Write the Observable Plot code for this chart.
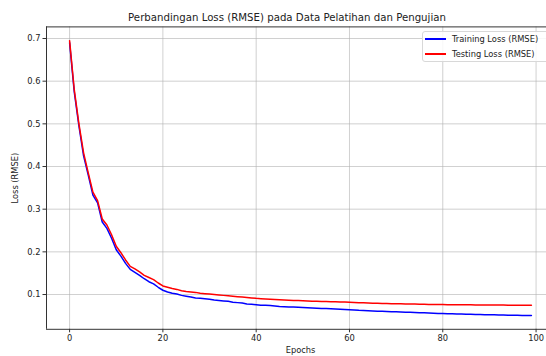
<!DOCTYPE html>
<html>
<head>
<meta charset="utf-8">
<script src="https://cdn.jsdelivr.net/npm/d3@7"></script>
<script src="https://cdn.jsdelivr.net/npm/@observablehq/plot@0.6"></script>
<style>
  html, body { margin: 0; padding: 0; background: #fff; }
  #wrap { position: relative; width: 546px; height: 356px; font-family: "DejaVu Sans", sans-serif; }
  #legend { position: absolute; left: 422px; top: 31px; width: 140px; height: 29px; border: 1px solid #d8d8d8; border-radius: 3px; background: rgba(255,255,255,0.85); font-size: 8.3px; color: #222; }
  .row { position: absolute; left: 0; height: 12px; line-height: 12px; white-space: nowrap; }
  .sw { position: absolute; left: 2px; top: 5px; width: 21px; height: 2px; display: block; }
  .lb { position: absolute; left: 29px; top: 0; }
</style>
</head>
<body>
<div id="wrap"></div>
<script>
const title = "Perbandingan Loss (RMSE) pada Data Pelatihan dan Pengujian";
const xLabel = "Epochs";
const yLabel = "Loss (RMSE)";
const seriesNames = ["Training Loss (RMSE)", "Testing Loss (RMSE)"];
const xTicks = [0, 20, 40, 60, 80, 100];
const yTicks = [0.1, 0.2, 0.3, 0.4, 0.5, 0.6, 0.7];

const trainingLoss = [
  0.690, 0.575, 0.495, 0.425, 0.380, 0.333, 0.315, 0.270, 0.255, 0.232,
  0.205, 0.190, 0.173, 0.159, 0.152, 0.145, 0.137, 0.130, 0.125, 0.117,
  0.110, 0.106, 0.103, 0.101, 0.098, 0.096, 0.094, 0.092, 0.091, 0.090,
  0.089, 0.087, 0.086, 0.085, 0.084, 0.082, 0.081, 0.080, 0.078, 0.077,
  0.076, 0.075, 0.075, 0.074, 0.073, 0.072, 0.0715, 0.071, 0.0705, 0.070,
  0.0695, 0.069, 0.0685, 0.068, 0.0675, 0.067, 0.0665, 0.066, 0.0655, 0.065,
  0.0645, 0.064, 0.063, 0.0625, 0.062, 0.0615, 0.061, 0.0605, 0.060, 0.0597,
  0.0594, 0.059, 0.0586, 0.0582, 0.0578, 0.0574, 0.057, 0.0566, 0.0562, 0.0558,
  0.0555, 0.0552, 0.0549, 0.0546, 0.0543, 0.054, 0.0537, 0.0534, 0.0531, 0.0528,
  0.0525, 0.0523, 0.0521, 0.0519, 0.0517, 0.0515, 0.0513, 0.0511, 0.0509, 0.0507
];
const testingLoss = [
  0.695, 0.580, 0.500, 0.432, 0.385, 0.340, 0.320, 0.277, 0.263, 0.240,
  0.213, 0.198, 0.181, 0.166, 0.160, 0.153, 0.145, 0.140, 0.135, 0.127,
  0.120, 0.117, 0.114, 0.112, 0.109, 0.107, 0.106, 0.105, 0.103, 0.102,
  0.101, 0.100, 0.099, 0.098, 0.097, 0.096, 0.095, 0.094, 0.093, 0.092,
  0.091, 0.0903, 0.0896, 0.089, 0.0884, 0.0878, 0.0872, 0.0867, 0.0862, 0.0857,
  0.0853, 0.0849, 0.0845, 0.0841, 0.0838, 0.0835, 0.0832, 0.0829, 0.0826, 0.0823,
  0.082, 0.0815, 0.081, 0.0806, 0.0802, 0.0798, 0.0795, 0.0792, 0.0789, 0.0786,
  0.0783, 0.0781, 0.0779, 0.0777, 0.0775, 0.0773, 0.0771, 0.0769, 0.0767, 0.0765,
  0.0764, 0.0763, 0.0762, 0.0761, 0.076, 0.0759, 0.0758, 0.0757, 0.0756, 0.0755,
  0.0754, 0.0753, 0.0752, 0.0752, 0.0751, 0.0751, 0.075, 0.075, 0.0749, 0.0749
];
const epochs = trainingLoss.map((_, i) => i);
const colors = ["#0000ff", "#ff0000"];

const rows = [];
epochs.forEach(e => rows.push({epoch: e, loss: trainingLoss[e], series: seriesNames[0]}));
epochs.forEach(e => rows.push({epoch: e, loss: testingLoss[e], series: seriesNames[1]}));

const all = trainingLoss.concat(testingLoss);
const xMin = d3.min(epochs), xMax = d3.max(epochs);
const yMin = d3.min(all), yMax = d3.max(all);
const xPad = (xMax - xMin) * 0.05, yPad = (yMax - yMin) * 0.05;
const xDomain = [xMin - xPad, xMax + xPad];
const yDomain = [yMin - yPad, yMax + yPad];

const W = 546, H = 356;
const mL = 46, mT = 26.4, mB = 27.2;

const chart = Plot.plot({
  width: W,
  height: H,
  marginLeft: mL,
  marginRight: 0,
  marginTop: mT,
  marginBottom: mB,
  style: {fontFamily: "DejaVu Sans, sans-serif", fontSize: "8.3px", color: "#222", background: "#fff"},
  x: {domain: xDomain, range: [mL, 554]},
  y: {domain: yDomain, range: [H - mB, mT]},
  color: {domain: seriesNames, range: colors},
  marks: [
    Plot.gridX(xTicks, {stroke: "#b0b0b0", strokeOpacity: 0.6, strokeWidth: 1}),
    Plot.gridY(yTicks, {stroke: "#b0b0b0", strokeOpacity: 0.6, strokeWidth: 1}),
    Plot.line(rows, {x: "epoch", y: "loss", z: "series", stroke: "series", strokeWidth: 1.5}),
    Plot.axisX(xTicks, {tickSize: 3.5, tickPadding: 2.5, tickFormat: d => d, label: null, stroke: "#333"}),
    Plot.axisY(yTicks, {tickSize: 3.5, tickPadding: 2.5, tickFormat: d => d.toFixed(1), label: null, stroke: "#333"}),
    Plot.ruleX([xDomain[0]], {stroke: "#333", strokeWidth: 1}),
    Plot.ruleY([yDomain[0]], {stroke: "#333", strokeWidth: 1}),
    Plot.ruleY([yDomain[1]], {stroke: "#333", strokeWidth: 1}),
    Plot.text([title], {frameAnchor: "top", dx: -9.5, dy: -6, lineAnchor: "bottom", fontSize: 10.2, fill: "#222"}),
    Plot.text([xLabel], {frameAnchor: "bottom", dx: 4, dy: 21.5, lineAnchor: "middle", fontSize: 8.3, fill: "#222"}),
    Plot.text([yLabel], {frameAnchor: "left", dx: -31, rotate: -90, lineAnchor: "middle", textAnchor: "middle", fontSize: 8.3, fill: "#222"})
  ]
});
const wrap = document.getElementById("wrap");
wrap.appendChild(chart);

const legend = document.createElement("div");
legend.id = "legend";
seriesNames.forEach((name, i) => {
  const r = document.createElement("div");
  r.className = "row";
  r.style.top = (1 + i * 14.5) + "px";
  r.innerHTML = `<span class="sw" style="background:${colors[i]}"></span><span class="lb">${name}</span>`;
  legend.appendChild(r);
});
wrap.appendChild(legend);
</script>
</body>
</html>
